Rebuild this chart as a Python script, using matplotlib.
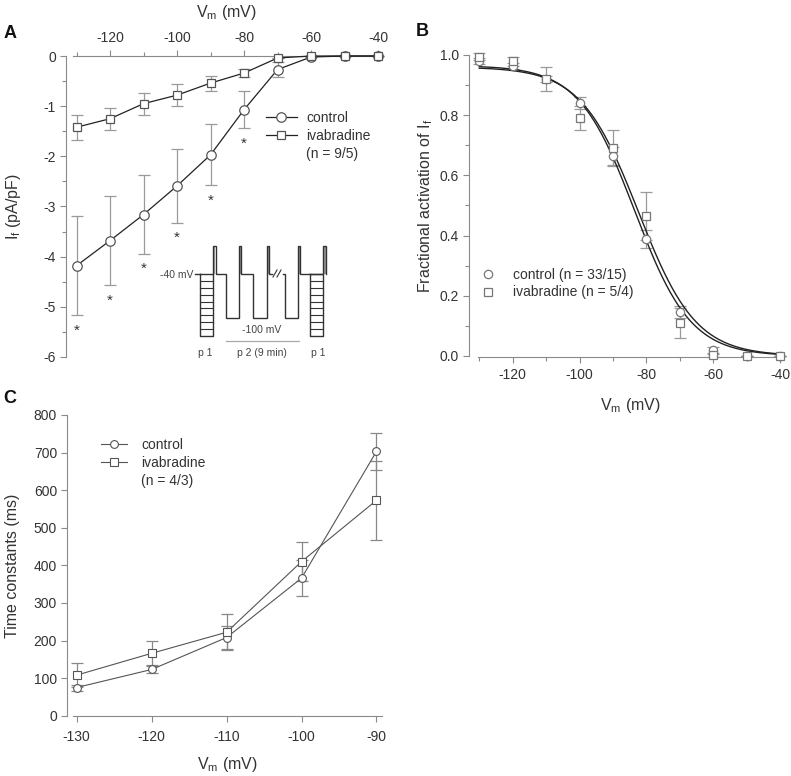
import numpy as np
import matplotlib
matplotlib.use("Agg")
import matplotlib.pyplot as plt
from matplotlib.lines import Line2D

plt.rcParams['font.family'] = ['Liberation Sans', 'DejaVu Sans']
plt.rcParams['mathtext.fontset'] = 'custom'
plt.rcParams['mathtext.rm'] = 'Liberation Sans'
plt.rcParams['mathtext.it'] = 'Liberation Sans:italic'
plt.rcParams['mathtext.bf'] = 'Liberation Sans:bold'
plt.rcParams['axes.unicode_minus'] = False

W, H = 791, 776
TXT = '#333333'
SPN = '#8a8a8a'
ERR = '#9a9a9a'

# ---------------- data ----------------
# Panel A: I-V relationship
vA = [-130, -120, -110, -100, -90, -80, -70, -60, -50, -40]
ctrlA = [-4.18, -3.68, -3.16, -2.59, -1.97, -1.07, -0.27, -0.02, 0.0, 0.0]
ctrlA_err = [0.99, 0.89, 0.78, 0.74, 0.61, 0.37, 0.15, 0.0, 0.0, 0.0]
ivaA = [-1.42, -1.25, -0.95, -0.78, -0.54, -0.34, -0.04, 0.0, 0.0, 0.0]
ivaA_err = [0.25, 0.22, 0.22, 0.22, 0.15, 0.08, 0.0, 0.0, 0.0, 0.0]
star_v = [-130, -120, -110, -100, -90, -80]

# Panel B: activation curves
vB = [-130, -120, -110, -100, -90, -80, -70, -60, -50, -40]
ctrlB = [0.98, 0.965, 0.92, 0.84, 0.665, 0.39, 0.145, 0.02, 0.0, 0.0]
ctrlB_err = [0.01, 0.01, 0.01, 0.02, 0.03, 0.03, 0.02, 0.01, 0.0, 0.0]
ivaB = [0.995, 0.98, 0.92, 0.79, 0.69, 0.465, 0.11, 0.003, 0.0, 0.0]
ivaB_err = [0.01, 0.015, 0.04, 0.04, 0.06, 0.08, 0.05, 0.005, 0.0, 0.0]
# Boltzmann fit parameters (top, V1/2, slope)
fit_ctrl = (0.965, -83.5, 8.4)
fit_iva = (0.960, -82.4, 8.6)

# Panel C: time constants
vC = [-130, -120, -110, -100, -90]
ctrlC = [75, 123, 208, 366, 703]
ctrlC_err = [8, 10, 30, 47, 50]
ivaC = [108, 166, 222, 410, 573]
ivaC_err = [32, 32, 48, 51, 105]

fig = plt.figure(figsize=(W / 100, H / 100), dpi=100)


def px_axes(x0, y0, x1, y1):
    return fig.add_axes([x0 / W, 1 - y1 / H, (x1 - x0) / W, (y1 - y0) / H])


def style(ax):
    for s in ax.spines.values():
        s.set_color(SPN)
        s.set_linewidth(0.8)
    ax.tick_params(which='both', direction='out', color=SPN, labelcolor=TXT,
                   labelsize=10, width=0.8)
    ax.tick_params(which='major', length=4)
    ax.tick_params(which='minor', length=3)


# ---------------- Panel A ----------------
axA = px_axes(73.2, 56, 379.7, 357)
style(axA)
axA.set_xlim(-131, -39.5)
axA.set_ylim(-6, 0)
axA.xaxis.tick_top()
axA.xaxis.set_label_position('top')
axA.spines['bottom'].set_visible(False)
axA.spines['right'].set_visible(False)
axA.spines['left'].set_position(('outward', 5))
axA.set_xticks([-120, -100, -80, -60, -40])
axA.set_xticks([-130, -110, -90, -70, -50], minor=True)
axA.set_yticks(np.arange(-6, 1, 1))
axA.set_yticks(np.arange(-5.5, 0, 1), minor=True)
axA.set_yticklabels([str(int(t)) for t in np.arange(-6, 1, 1)])
axA.tick_params(axis='x', pad=4)

axA.errorbar(vA, ctrlA, yerr=ctrlA_err, fmt='none', ecolor=ERR, elinewidth=0.9,
             capsize=4.5, capthick=0.9, zorder=2, clip_on=False)
axA.errorbar(vA, ivaA, yerr=ivaA_err, fmt='none', ecolor=ERR, elinewidth=0.9,
             capsize=4.5, capthick=0.9, zorder=2, clip_on=False)
axA.plot(vA, ctrlA, '-o', color='#222222', lw=0.9, ms=6.8, mfc='white',
         mec='#555555', mew=0.9, zorder=3, clip_on=False, label='control')
axA.plot(vA, ivaA, '-s', color='#222222', lw=0.9, ms=6.0, mfc='white',
         mec='#555555', mew=0.9, zorder=4, clip_on=False, label='ivabradine')
for v in star_v:
    i = vA.index(v)
    axA.text(v, ctrlA[i] - ctrlA_err[i] - 0.3, '*', ha='center', va='center',
             fontsize=11, color=TXT)

axA.set_xlabel(r'V$_\mathrm{m}$ (mV)', fontsize=11.5, color=TXT, labelpad=10)
axA.set_ylabel(r'I$_\mathrm{f}$ (pA/pF)', fontsize=11.5, color=TXT, labelpad=15)

hA = [Line2D([], [], color='#222222', lw=0.9, marker='o', ms=6.8, mfc='white', mec='#555555', mew=0.9),
      Line2D([], [], color='#222222', lw=0.9, marker='s', ms=6.0, mfc='white', mec='#555555', mew=0.9),
      Line2D([], [], lw=0, marker='')]
legA = fig.legend(hA, ['control', 'ivabradine', '(n = 9/5)'], loc='upper left',
                  bbox_to_anchor=(266 / W, 1 - 111 / H), frameon=False, fontsize=10,
                  handlelength=2.2, handletextpad=0.7, labelspacing=0.3,
                  borderpad=0, borderaxespad=0, labelcolor=TXT)

# inset protocol schematic (figure-pixel units)
ins = px_axes(160, 238, 340, 362)
ins.set_xlim(160, 340)
ins.set_ylim(362, 238)
ins.axis('off')
L40, LOW, TOP, LB = 274, 318, 246, 336
lc = '#333333'
# ladders
for xa, xb in [(200, 213), (310, 323)]:
    ins.plot([xa, xa, xb, xb, xa], [L40, LB, LB, L40, L40], color=lc, lw=1.0)
    for yy in np.linspace(L40, LB, 10)[1:-1]:
        ins.plot([xa, xb], [yy, yy], color=lc, lw=0.8)
ins.plot([195, 200], [L40, L40], color=lc, lw=1.0)
# waveform path segments
path1_x = [213, 213, 216, 216, 226, 226, 239, 239, 241, 241, 253, 253, 267, 267, 269, 269, 272]
path1_y = [L40, TOP, TOP, L40, L40, LOW, LOW, TOP, TOP, L40, L40, LOW, LOW, TOP, TOP, L40, L40]
ins.plot(path1_x, path1_y, color=lc, lw=1.0, solid_joinstyle='miter')
path2_x = [283, 285, 285, 298, 298, 300, 300, 323, 323, 326, 326]
path2_y = [L40, L40, LOW, LOW, TOP, TOP, L40, L40, TOP, TOP, L40]
ins.plot(path2_x, path2_y, color=lc, lw=1.0, solid_joinstyle='miter')
for (xa, xb) in [(214, 215), (239.5, 240.5), (267.5, 268.5), (298.5, 299.5), (323.5, 325.5)]:
    ins.fill_between([xa, xb], TOP + 1, L40, color='#999999', lw=0)
ins.plot([273, 277], [L40 + 3, L40 - 4], color=lc, lw=0.8)
ins.plot([277, 281], [L40 + 3, L40 - 4], color=lc, lw=0.8)
ins.plot([226, 299], [341, 341], color='#aaaaaa', lw=0.9)
ins.text(193, L40 + 1, '-40 mV', ha='right', va='center', fontsize=7.5, color='#444444')
ins.text(262, 330, '-100 mV', ha='center', va='center', fontsize=7.5, color='#444444')
ins.text(205, 353, 'p 1', ha='center', va='center', fontsize=7.5, color='#444444')
ins.text(262, 353, 'p 2 (9 min)', ha='center', va='center', fontsize=7.5, color='#444444')
ins.text(318, 353, 'p 1', ha='center', va='center', fontsize=7.5, color='#444444')

# ---------------- Panel B ----------------
axB = px_axes(477.6, 55, 782.3, 356)
style(axB)
axB.set_xlim(-130.5, -39.3)
axB.set_ylim(0, 1.0)
axB.spines['top'].set_visible(False)
axB.spines['right'].set_visible(False)
axB.spines['left'].set_position(('outward', 6))
axB.spines['bottom'].set_position(('outward', 1))
axB.set_xticks([-120, -100, -80, -60, -40])
axB.set_xticks([-130, -110, -90, -70, -50], minor=True)
axB.set_yticks(np.arange(0, 1.01, 0.2))
axB.set_yticks(np.arange(0.1, 1.0, 0.2), minor=True)
axB.set_yticklabels(['%.1f' % t for t in np.arange(0, 1.01, 0.2)])

vfit = np.linspace(-130, -40, 300)
for (top, vh, k) in [fit_ctrl, fit_iva]:
    axB.plot(vfit, top / (1 + np.exp((vfit - vh) / k)), color='#222222', lw=1.0, zorder=3)
axB.errorbar(vB, ctrlB, yerr=ctrlB_err, fmt='none', ecolor=ERR, elinewidth=0.9,
             capsize=4.5, capthick=0.9, zorder=2, clip_on=False)
axB.errorbar(vB, ivaB, yerr=ivaB_err, fmt='none', ecolor=ERR, elinewidth=0.9,
             capsize=4.5, capthick=0.9, zorder=2, clip_on=False)
axB.plot(vB, ctrlB, 'o', ms=6.0, mfc='white', mec='#777777', mew=0.9, zorder=4, clip_on=False)
axB.plot(vB, ivaB, 's', ms=5.5, mfc='white', mec='#777777', mew=0.9, zorder=5, clip_on=False)
axB.set_xlabel(r'V$_\mathrm{m}$ (mV)', fontsize=11.5, color=TXT, labelpad=10)
axB.set_ylabel(r'Fractional activation of I$_\mathrm{f}$', fontsize=11.5, color=TXT, labelpad=3)

hB = [Line2D([], [], lw=0, marker='o', ms=6.0, mfc='white', mec='#777777', mew=0.9),
      Line2D([], [], lw=0, marker='s', ms=5.5, mfc='white', mec='#777777', mew=0.9)]
fig.legend(hB, ['control (n = 33/15)', 'ivabradine (n = 5/4)'], loc='upper left',
           bbox_to_anchor=(481 / W, 1 - 268 / H), frameon=False, fontsize=10,
           handlelength=1.0, handletextpad=1.3, labelspacing=0.25,
           borderpad=0, borderaxespad=0, labelcolor=TXT)

# ---------------- Panel C ----------------
axC = px_axes(73, 415, 381.7, 715.7)
style(axC)
axC.set_xlim(-130.5, -89.3)
axC.set_ylim(0, 800)
axC.spines['top'].set_visible(False)
axC.spines['right'].set_visible(False)
axC.spines['left'].set_position(('outward', 4))
axC.set_xticks(vC)
axC.set_yticks(np.arange(0, 801, 100))
axC.tick_params(axis='x', pad=6)
axC.errorbar(vC, ctrlC, yerr=ctrlC_err, fmt='none', ecolor='#888888', elinewidth=0.9,
             capsize=4.5, capthick=0.9, zorder=2, clip_on=False)
axC.errorbar(vC, ivaC, yerr=ivaC_err, fmt='none', ecolor='#888888', elinewidth=0.9,
             capsize=4.5, capthick=0.9, zorder=2, clip_on=False)
axC.plot(vC, ctrlC, '-o', color='#555555', lw=0.8, ms=5.6, mfc='white', mec='#555555',
         mew=0.8, zorder=3, clip_on=False)
axC.plot(vC, ivaC, '-s', color='#555555', lw=0.8, ms=5.2, mfc='white', mec='#555555',
         mew=0.8, zorder=4, clip_on=False)
axC.set_xlabel(r'V$_\mathrm{m}$ (mV)', fontsize=11.5, color=TXT, labelpad=8)
axC.set_ylabel('Time constants (ms)', fontsize=11.5, color=TXT, labelpad=10)

hC = [Line2D([], [], color='#555555', lw=0.8, marker='o', ms=5.6, mfc='white', mec='#555555', mew=0.8),
      Line2D([], [], color='#555555', lw=0.8, marker='s', ms=5.2, mfc='white', mec='#555555', mew=0.8),
      Line2D([], [], lw=0, marker='')]
fig.legend(hC, ['control', 'ivabradine', '(n = 4/3)'], loc='upper left',
           bbox_to_anchor=(101 / W, 1 - 438 / H), frameon=False, fontsize=10,
           handlelength=1.9, handletextpad=1.0, labelspacing=0.27,
           borderpad=0, borderaxespad=0, labelcolor=TXT)

# panel letters
fig.text(4 / W, 1 - 33 / H, 'A', fontsize=13, fontweight='bold', color='#111111', va='center')
fig.text(416 / W, 1 - 31 / H, 'B', fontsize=13, fontweight='bold', color='#111111', va='center')
fig.text(3 / W, 1 - 399 / H, 'C', fontsize=13, fontweight='bold', color='#111111', va='center')

fig.savefig('out.png', dpi=100)
